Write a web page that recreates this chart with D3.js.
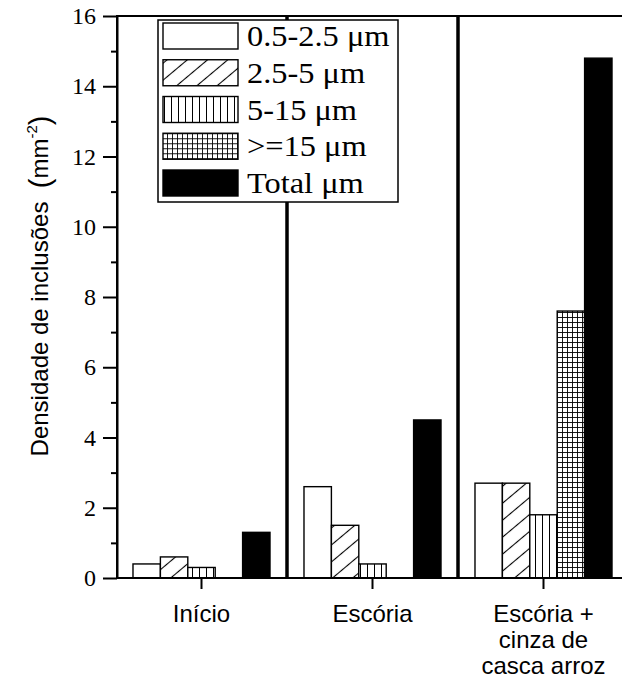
<!DOCTYPE html>
<html>
<head>
<meta charset="utf-8">
<script src="https://cdn.jsdelivr.net/npm/d3@7"></script>
<style>
  html, body { margin: 0; padding: 0; background: #fff; }
  svg { display: block; }
</style>
</head>
<body>
<div id="chart"></div>
<script>
// categories, series and values
const groups = ["Início", "Escória", "Escória + cinza de casca arroz"];
const groupLabels = [["Início"], ["Escória"], ["Escória +", "cinza de", "casca arroz"]];
const seriesNames = ["0.5-2.5 μm", "2.5-5 μm", "5-15 μm", ">=15 μm", "Total μm"];
const size05to25 = [0.4, 2.6, 2.7];
const size25to5 = [0.6, 1.5, 2.7];
const size5to15 = [0.3, 0.4, 1.8];
const size15up = [0, 0, 7.6];
const sizeTotal = [1.3, 4.5, 14.8];
const majorTicks = [0, 2, 4, 6, 8, 10, 12, 14, 16];
const minorTicks = [1, 3, 5, 7, 9, 11, 13, 15];

const seriesValues = [size05to25, size25to5, size5to15, size15up, sizeTotal];

const W = 622, H = 681;
const plot = { left: 117, right: 630, top: 16, bottom: 578 };

const svg = d3.select("#chart").append("svg")
    .attr("width", W)
    .attr("height", H);

// fill patterns
const defs = svg.append("defs");

const hatch = defs.append("pattern")
    .attr("id", "hatch")
    .attr("patternUnits", "userSpaceOnUse")
    .attr("width", 14).attr("height", 13)
    .attr("patternTransform", "rotate(-40)");
hatch.append("rect").attr("width", 14).attr("height", 13).attr("fill", "#fff");
hatch.append("line")
    .attr("x1", 0).attr("x2", 14).attr("y1", 6.5).attr("y2", 6.5)
    .attr("stroke", "#000").attr("stroke-width", 1.1);

const vlines = defs.append("pattern")
    .attr("id", "vlines")
    .attr("patternUnits", "userSpaceOnUse")
    .attr("width", 7).attr("height", 7);
vlines.append("rect").attr("width", 7).attr("height", 7).attr("fill", "#fff");
vlines.append("line")
    .attr("x1", 3.5).attr("x2", 3.5).attr("y1", 0).attr("y2", 7)
    .attr("stroke", "#000").attr("stroke-width", 1);

const grid = defs.append("pattern")
    .attr("id", "grid")
    .attr("patternUnits", "userSpaceOnUse")
    .attr("width", 5).attr("height", 5);
grid.append("rect").attr("width", 5).attr("height", 5).attr("fill", "#fff");
grid.append("path")
    .attr("d", "M2.5,0V5M0,2.5H5")
    .attr("stroke", "#000").attr("stroke-width", 0.9)
    .attr("fill", "none");

const fills = ["#fff", "url(#hatch)", "url(#vlines)", "url(#grid)", "#000"];

// scales
const x = d3.scaleBand()
    .domain(groups)
    .range([116, 629])
    .padding(0);

const xs = d3.scaleBand()
    .domain(seriesNames)
    .range([0, x.bandwidth()])
    .paddingInner(0)
    .paddingOuter(0.62);

const y = d3.scaleLinear()
    .domain([0, 16])
    .range([plot.bottom, plot.top]);

// flatten bars
const bars = [];
groups.forEach((g, i) => {
    seriesNames.forEach((s, j) => {
        bars.push({ group: g, series: s, idx: j, value: seriesValues[j][i] });
    });
});

svg.append("g")
    .selectAll("rect")
    .data(bars.filter(d => d.value > 0))
    .enter().append("rect")
    .attr("x", d => x(d.group) + xs(d.series))
    .attr("y", d => y(d.value))
    .attr("width", xs.bandwidth())
    .attr("height", d => y(0) - y(d.value))
    .attr("fill", d => fills[d.idx])
    .attr("stroke", "#000")
    .attr("stroke-width", 1.4);

// separators between groups
svg.append("g")
    .selectAll("line")
    .data(groups.slice(1))
    .enter().append("line")
    .attr("x1", d => x(d)).attr("x2", d => x(d))
    .attr("y1", y(0)).attr("y2", y(16))
    .attr("stroke", "#000")
    .attr("stroke-width", 3.5);

// frame
svg.append("rect")
    .attr("x", plot.left)
    .attr("y", plot.top)
    .attr("width", plot.right - plot.left)
    .attr("height", plot.bottom - plot.top)
    .attr("fill", "none")
    .attr("stroke", "#000")
    .attr("stroke-width", 2);

// y axis
const yAxis = svg.append("g")
    .attr("transform", `translate(${plot.left},0)`)
    .call(d3.axisLeft(y).tickValues(majorTicks).tickSize(14).tickSizeOuter(0).tickPadding(7).tickFormat(d3.format("d")));
yAxis.select(".domain").attr("stroke-width", 2);
yAxis.selectAll(".tick line").attr("stroke-width", 2);
yAxis.selectAll(".tick text")
    .style("font-family", "'Liberation Serif', 'Times New Roman', serif")
    .style("font-size", "24px")
    .attr("fill", "#000");

const yMinor = svg.append("g")
    .attr("transform", `translate(${plot.left},0)`)
    .call(d3.axisLeft(y).tickValues(minorTicks).tickSize(6).tickSizeOuter(0).tickFormat(""));
yMinor.select(".domain").remove();
yMinor.selectAll(".tick line").attr("stroke-width", 2);

// x axis ticks
const xAxis = svg.append("g")
    .attr("transform", `translate(0,${plot.bottom})`)
    .call(d3.axisBottom(x).tickSize(11).tickSizeOuter(0).tickFormat(""));
xAxis.select(".domain").remove();
xAxis.selectAll(".tick line").attr("stroke-width", 2);

// x labels, multi-line
svg.append("g")
    .selectAll("text")
    .data(groups)
    .enter().append("text")
    .attr("text-anchor", "middle")
    .style("font-family", "'Liberation Sans', Arial, sans-serif")
    .style("font-size", "24px")
    .attr("fill", "#000")
    .each(function(d, i) {
        const t = d3.select(this);
        groupLabels[i].forEach((line, k) => {
            t.append("tspan")
                .attr("x", x(d) + x.bandwidth() / 2)
                .attr("y", 622 + k * 26)
                .text(line);
        });
    });

// y title
const yTitle = svg.append("text")
    .attr("transform", `translate(48,${(plot.top + plot.bottom) / 2 - 11}) rotate(-90)`)
    .attr("text-anchor", "middle")
    .style("font-family", "'Liberation Sans', Arial, sans-serif")
    .style("font-size", "24px")
    .style("white-space", "pre")
    .attr("fill", "#000");
yTitle.append("tspan").text("Densidade de inclusões  ");
yTitle.append("tspan").style("font-size", "29px").attr("dy", 2).text("(");
yTitle.append("tspan").attr("dy", -2).text("mm");
yTitle.append("tspan").attr("dy", -11).style("font-size", "15px").text("-2");
yTitle.append("tspan").attr("dy", 13).style("font-size", "29px").text(")");

// legend
const legend = svg.append("g");
legend.append("rect")
    .attr("x", 158).attr("y", 20)
    .attr("width", 240).attr("height", 182)
    .attr("fill", "#fff")
    .attr("stroke", "#000")
    .attr("stroke-width", 1.5);

const rowY = d3.scalePoint()
    .domain(seriesNames)
    .range([36, 183]);

const rows = legend.selectAll(".row")
    .data(seriesNames)
    .enter().append("g")
    .attr("class", "row")
    .attr("transform", d => `translate(0,${rowY(d)})`);

rows.append("rect")
    .attr("x", 163).attr("y", -13)
    .attr("width", 75).attr("height", 26)
    .attr("fill", (d, i) => fills[i])
    .attr("stroke", "#000")
    .attr("stroke-width", 1.4);

rows.append("text")
    .attr("transform", "translate(247,10) scale(1.08,1)")
    .style("font-family", "'Liberation Serif', 'Times New Roman', serif")
    .style("font-size", "30px")
    .attr("fill", "#000")
    .text(d => d);
</script>
</body>
</html>
